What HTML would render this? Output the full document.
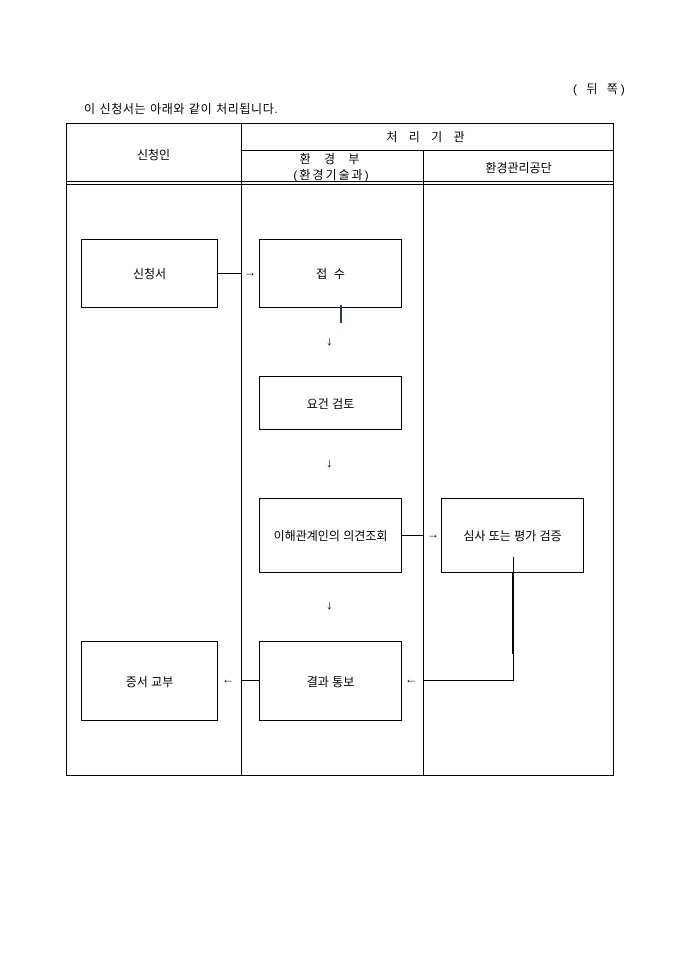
<!DOCTYPE html>
<html><head><meta charset="utf-8"><style>
body{margin:0;background:#fff;}
#p{position:relative;width:680px;height:962px;font-family:"Liberation Sans","Noto Sans CJK KR","NanumGothic",sans-serif;font-size:12px;color:#000;}
.a{position:absolute;}
.h{position:absolute;background:#000;height:1px;}
.v{position:absolute;background:#000;width:1px;}
.b{position:absolute;border:1px solid #000;box-sizing:border-box;display:flex;align-items:center;justify-content:center;font-size:12px;}
.t{position:absolute;text-align:center;white-space:nowrap;}
</style></head><body><div id="p">
<div class="t" style="left:573px;top:80px;letter-spacing:3px;">( 뒤 쪽)</div>
<div class="t" style="left:84px;top:100px;letter-spacing:0.6px;">이 신청서는 아래와 같이 처리됩니다.</div>

<div class="a" style="left:66px;top:123px;width:548px;height:653px;border:1px solid #000;box-sizing:border-box;"></div>
<div class="v" style="left:241px;top:123px;height:653px;"></div>
<div class="v" style="left:423px;top:150px;height:626px;"></div>
<div class="h" style="left:241px;top:150px;width:373px;"></div>
<div class="h" style="left:66px;top:181px;width:548px;"></div>
<div class="h" style="left:66px;top:184px;width:548px;"></div>

<div class="t" style="left:66px;width:175px;top:146px;">신청인</div>
<div class="t" style="left:241px;width:373px;top:128px;letter-spacing:4px;">처 리 기 관</div>
<div class="t" style="left:241px;width:182px;top:150px;letter-spacing:5px;">환 경 부</div>
<div class="t" style="left:241px;width:182px;top:166px;letter-spacing:2px;">(환경기술과)</div>
<div class="t" style="left:423px;width:191px;top:159px;">환경관리공단</div>

<div class="b" style="left:81px;top:239px;width:137px;height:69px;">신청서</div>
<div class="b" style="left:259px;top:239px;width:143px;height:69px;">접 &nbsp;수</div>
<div class="b" style="left:259px;top:376px;width:143px;height:54px;">요건 검토</div>
<div class="b" style="left:259px;top:498px;width:143px;height:75px;">이해관계인의 의견조회</div>
<div class="b" style="left:441px;top:498px;width:143px;height:75px;">심사 또는 평가 검증</div>
<div class="b" style="left:259px;top:641px;width:143px;height:80px;">결과 통보</div>
<div class="b" style="left:81px;top:641px;width:137px;height:80px;">증서 교부</div>

<div class="h" style="left:217px;top:273px;width:24px;"></div>
<div class="t" style="left:244px;top:265px;">→</div>
<div class="a" style="left:340px;top:305px;width:2px;height:18px;background:#2c3e50;"></div>
<div class="t" style="left:326px;top:333px;font-size:13px;">↓</div>
<div class="t" style="left:326px;top:455px;font-size:13px;">↓</div>
<div class="t" style="left:326px;top:597px;font-size:13px;">↓</div>
<div class="h" style="left:401px;top:535px;width:22px;"></div>
<div class="t" style="left:427px;top:527px;">→</div>
<div class="v" style="left:513px;top:557px;height:123px;"></div>
<div class="a" style="left:512px;top:572px;width:2px;height:82px;background:#000;"></div>
<div class="h" style="left:423px;top:680px;width:91px;"></div>
<div class="t" style="left:405px;top:672px;">←</div>
<div class="h" style="left:241px;top:680px;width:18px;"></div>
<div class="t" style="left:222px;top:672px;">←</div>
</div></body></html>
